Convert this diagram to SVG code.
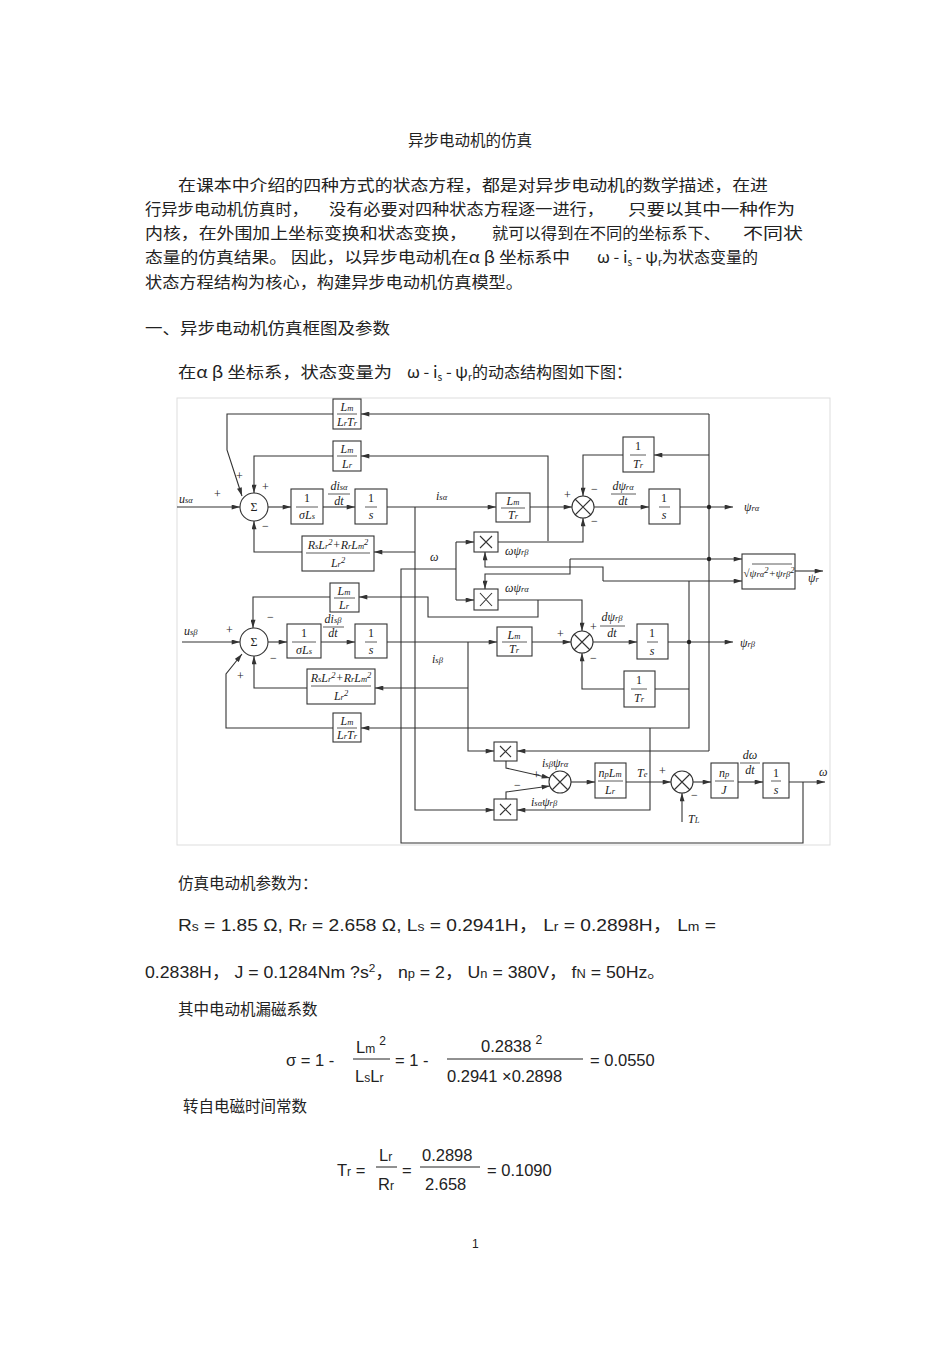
<svg xmlns="http://www.w3.org/2000/svg" width="950" height="1345" viewBox="0 0 950 1345">
<style>
.t{font-family:"Liberation Sans","Noto Sans CJK SC",sans-serif;font-size:16.5px;fill:#222}
.c{font-family:"Noto Sans CJK SC","Liberation Sans",sans-serif;font-size:15.5px;fill:#222}
.d{font-family:"Liberation Serif",serif;font-size:12px;fill:#222}
.i{font-style:italic}
.s{font-size:8.5px}
.b{fill:#fff;stroke:#333;stroke-width:1.1}
.w{fill:none;stroke:#333;stroke-width:1.1}
.fl{stroke:#333;stroke-width:0.8}
</style>
<defs>
<marker id="a" viewBox="0 0 10 6" refX="10" refY="3" markerWidth="9" markerHeight="5" orient="auto" markerUnits="userSpaceOnUse"><path d="M0 0L10 3L0 6z" fill="#333"/></marker>
</defs>
<rect width="950" height="1345" fill="#fff"/>
<text class="c" x="470" y="146" text-anchor="middle" font-size="17">异步电动机的仿真</text>
<g class="c">
<text x="178" y="191" textLength="590" lengthAdjust="spacingAndGlyphs">在课本中介绍的四种方式的状态方程，都是对异步电动机的数学描述，在进</text>
<text x="145" y="215" textLength="163" lengthAdjust="spacingAndGlyphs">行异步电动机仿真时，</text>
<text x="329" y="215" textLength="275" lengthAdjust="spacingAndGlyphs">没有必要对四种状态方程逐一进行，</text>
<text x="628" y="215" textLength="167" lengthAdjust="spacingAndGlyphs">只要以其中一种作为</text>
<text x="145" y="239" textLength="322" lengthAdjust="spacingAndGlyphs">内核，在外围加上坐标变换和状态变换，</text>
<text x="492" y="239" textLength="228" lengthAdjust="spacingAndGlyphs">就可以得到在不同的坐标系下、</text>
<text x="743" y="239" textLength="60" lengthAdjust="spacingAndGlyphs">不同状</text>
<text x="145" y="263" textLength="425" lengthAdjust="spacingAndGlyphs">态量的仿真结果。 因此，以异步电动机在α β 坐标系中</text>
<text x="597" y="263" font-size="16.5">ω -  i<tspan font-size="10" dy="3">s</tspan><tspan dy="-3"> -  ψ</tspan><tspan font-size="10" dy="3">r</tspan><tspan dy="-3" font-size="16">为状态变量的</tspan></text>
<text x="145" y="288" textLength="378" lengthAdjust="spacingAndGlyphs">状态方程结构为核心，构建异步电动机仿真模型。</text>
<text x="145" y="334" textLength="245" lengthAdjust="spacingAndGlyphs">一、异步电动机仿真框图及参数</text>
<text x="178" y="378" textLength="214" lengthAdjust="spacingAndGlyphs">在α β 坐标系，状态变量为</text>
<text x="407" y="378" font-size="16.5">ω -  i<tspan font-size="10" dy="3">s</tspan><tspan dy="-3"> -  ψ</tspan><tspan font-size="10" dy="3">r</tspan><tspan dy="-3" font-size="16">的动态结构图如下图：</tspan></text>
</g>
<rect x="177" y="398" width="653" height="447" fill="none" stroke="#ddd" stroke-width="1"/>
<g id="connectors">
<path class="w" marker-end="url(#a)" d="M177 507H240"/>
<path class="w" marker-end="url(#a)" d="M268 507H291"/>
<path class="w" marker-end="url(#a)" d="M323 507H355"/>
<path class="w" marker-end="url(#a)" d="M387 507H496"/>
<path class="w" marker-end="url(#a)" d="M530 507H572"/>
<path class="w" marker-end="url(#a)" d="M594 507H649"/>
<path class="w" marker-end="url(#a)" d="M680 507H733"/>
<path class="w" marker-end="url(#a)" d="M709 414H361"/>
<path class="w" marker-end="url(#a)" d="M333 414H227V450L242 496"/>
<path class="w" d="M709 414V751"/>
<path class="w" marker-end="url(#a)" d="M709 455H654"/>
<path class="w" marker-end="url(#a)" d="M623 455H583V496"/>
<path class="w" marker-end="url(#a)" d="M548 541V456H361"/>
<path class="w" marker-end="url(#a)" d="M333 456H254V493"/>
<path class="w" marker-end="url(#a)" d="M498 542H583V518"/>
<path class="w" marker-end="url(#a)" d="M570 559H742"/>
<path class="w" marker-end="url(#a)" d="M570 559V574H485V589"/>
<path class="w" d="M689 642V581"/>
<path class="w" marker-end="url(#a)" d="M603 581H742"/>
<path class="w" marker-end="url(#a)" d="M603 581V567H485V552"/>
<path class="w" marker-end="url(#a)" d="M415 507V810H494"/>
<path class="w" marker-end="url(#a)" d="M415 552H374"/>
<path class="w" marker-end="url(#a)" d="M302 552H254V521"/>
<path class="w" d="M803 782V843H401V569H456"/>
<path class="w" d="M456 542V600"/>
<path class="w" marker-end="url(#a)" d="M456 542H474"/>
<path class="w" marker-end="url(#a)" d="M456 600H474"/>
<path class="w" marker-end="url(#a)" d="M498 600H582V631"/>
<path class="w" marker-end="url(#a)" d="M538 600V617H428V597H359"/>
<path class="w" marker-end="url(#a)" d="M330 597H253V628"/>
<path class="w" marker-end="url(#a)" d="M182 642H240"/>
<path class="w" marker-end="url(#a)" d="M268 642H287"/>
<path class="w" marker-end="url(#a)" d="M321 642H355"/>
<path class="w" marker-end="url(#a)" d="M387 642H497"/>
<path class="w" marker-end="url(#a)" d="M532 642H571"/>
<path class="w" marker-end="url(#a)" d="M593 642H637"/>
<path class="w" marker-end="url(#a)" d="M668 642H733"/>
<path class="w" marker-end="url(#a)" d="M468 642V751H494"/>
<path class="w" marker-end="url(#a)" d="M468 688H375"/>
<path class="w" marker-end="url(#a)" d="M307 688H254V656"/>
<path class="w" d="M689 689H655"/>
<path class="w" marker-end="url(#a)" d="M624 689H582V653"/>
<path class="w" marker-end="url(#a)" d="M689 642V728H361"/>
<path class="w" marker-end="url(#a)" d="M333 728H226V674L242 654"/>
<path class="w" marker-end="url(#a)" d="M650 728V810H517"/>
<path class="w" marker-end="url(#a)" d="M709 751H517"/>
<path class="w" marker-end="url(#a)" d="M506 761V768L550 778"/>
<path class="w" marker-end="url(#a)" d="M506 799V792L550 786"/>
<path class="w" marker-end="url(#a)" d="M571 782H595"/>
<path class="w" marker-end="url(#a)" d="M626 782H671"/>
<path class="w" marker-end="url(#a)" d="M682 822V793"/>
<path class="w" marker-end="url(#a)" d="M693 782H711"/>
<path class="w" marker-end="url(#a)" d="M738 782H763"/>
<path class="w" marker-end="url(#a)" d="M789 782H825"/>
<path class="w" marker-end="url(#a)" d="M795 571H823"/>
<circle cx="709" cy="507" r="2.2" fill="#222"/>
<circle cx="709" cy="559" r="2.2" fill="#222"/>
<circle cx="689" cy="642" r="2.2" fill="#222"/>
</g>
<g class="d" text-anchor="middle">
<g id="n-lmlrtr-a"><rect class="b" x="333" y="399" width="28" height="30"/><text class="i" x="347" y="411">L<tspan class="s">m</tspan></text><line class="fl" x1="337" y1="414" x2="357" y2="414"/><text class="i" x="347" y="426">L<tspan class="s">r</tspan>T<tspan class="s">r</tspan></text></g>
<g id="n-lmlr-a"><rect class="b" x="333" y="441" width="28" height="30"/><text class="i" x="347" y="453">L<tspan class="s">m</tspan></text><line class="fl" x1="337" y1="456" x2="357" y2="456"/><text class="i" x="347" y="468">L<tspan class="s">r</tspan></text></g>
<g id="n-sum-a"><circle class="b" cx="254" cy="507" r="14"/><text x="254" y="511">Σ</text></g>
<g id="n-sigls-a"><rect class="b" x="291" y="489" width="32" height="35"/><text x="307" y="502">1</text><line class="fl" x1="296" y1="507" x2="318" y2="507"/><text class="i" x="307" y="519">σL<tspan class="s">s</tspan></text></g>
<g id="n-int-a"><rect class="b" x="355" y="489" width="32" height="35"/><text x="371" y="502">1</text><line class="fl" x1="365" y1="507" x2="377" y2="507"/><text class="i" x="371" y="519">s</text></g>
<g id="n-rs-a"><rect class="b" x="302" y="536" width="72" height="35"/><text class="i" x="338" y="549">R<tspan class="s">s</tspan>L<tspan class="s">r</tspan><tspan class="s" dy="-4">2</tspan><tspan dy="4">+R</tspan><tspan class="s">r</tspan>L<tspan class="s">m</tspan><tspan class="s" dy="-4">2</tspan></text><line class="fl" x1="306" y1="553" x2="370" y2="553"/><text class="i" x="338" y="567">L<tspan class="s">r</tspan><tspan class="s" dy="-4">2</tspan></text></g>
<g id="n-lmtr-a"><rect class="b" x="496" y="493" width="34" height="29"/><text class="i" x="513" y="505">L<tspan class="s">m</tspan></text><line class="fl" x1="501" y1="508" x2="525" y2="508"/><text class="i" x="513" y="519">T<tspan class="s">r</tspan></text></g>
<g id="n-x-a"><circle class="b" cx="583" cy="507" r="11"/><path class="w" d="M575 499L591 515M591 499L575 515"/></g>
<g id="n-tr-a"><rect class="b" x="623" y="437" width="31" height="35"/><text x="638" y="450">1</text><line class="fl" x1="630" y1="455" x2="646" y2="455"/><text class="i" x="638" y="468">T<tspan class="s">r</tspan></text></g>
<g id="n-intpsi-a"><rect class="b" x="649" y="489" width="31" height="35"/><text x="664" y="502">1</text><line class="fl" x1="659" y1="507" x2="670" y2="507"/><text class="i" x="664" y="519">s</text></g>
<g id="n-mul1"><rect class="b" x="474" y="532" width="24" height="20"/><path class="w" d="M480 536L492 548M492 536L480 548"/></g>
<g id="n-mul2"><rect class="b" x="474" y="589" width="24" height="21"/><path class="w" d="M480 593L492 606M492 593L480 606"/></g>
<g id="n-sqrt"><rect class="b" x="742" y="554" width="53" height="35"/><text class="i" x="769" y="577" font-size="11">√<tspan>ψ</tspan><tspan class="s">rα</tspan><tspan class="s" dy="-4">2</tspan><tspan dy="4">+ψ</tspan><tspan class="s">rβ</tspan><tspan class="s" dy="-4">2</tspan></text><line class="fl" x1="752" y1="564" x2="792" y2="564"/></g>
<g id="n-lmlr-b"><rect class="b" x="330" y="583" width="29" height="29"/><text class="i" x="344" y="595">L<tspan class="s">m</tspan></text><line class="fl" x1="334" y1="598" x2="355" y2="598"/><text class="i" x="344" y="609">L<tspan class="s">r</tspan></text></g>
<g id="n-sum-b"><circle class="b" cx="254" cy="642" r="14"/><text x="254" y="646">Σ</text></g>
<g id="n-sigls-b"><rect class="b" x="287" y="624" width="34" height="34"/><text x="304" y="637">1</text><line class="fl" x1="292" y1="642" x2="316" y2="642"/><text class="i" x="304" y="654">σL<tspan class="s">s</tspan></text></g>
<g id="n-int-b"><rect class="b" x="355" y="624" width="32" height="34"/><text x="371" y="637">1</text><line class="fl" x1="365" y1="642" x2="377" y2="642"/><text class="i" x="371" y="654">s</text></g>
<g id="n-lmtr-b"><rect class="b" x="497" y="627" width="35" height="29"/><text class="i" x="514" y="639">L<tspan class="s">m</tspan></text><line class="fl" x1="502" y1="642" x2="527" y2="642"/><text class="i" x="514" y="653">T<tspan class="s">r</tspan></text></g>
<g id="n-x-b"><circle class="b" cx="582" cy="642" r="11"/><path class="w" d="M574 634L590 650M590 634L574 650"/></g>
<g id="n-intpsi-b"><rect class="b" x="637" y="624" width="31" height="35"/><text x="652" y="637">1</text><line class="fl" x1="647" y1="642" x2="658" y2="642"/><text class="i" x="652" y="655">s</text></g>
<g id="n-tr-b"><rect class="b" x="624" y="671" width="31" height="36"/><text x="639" y="684">1</text><line class="fl" x1="631" y1="689" x2="647" y2="689"/><text class="i" x="639" y="702">T<tspan class="s">r</tspan></text></g>
<g id="n-rs-b"><rect class="b" x="307" y="669" width="68" height="35"/><text class="i" x="341" y="682">R<tspan class="s">s</tspan>L<tspan class="s">r</tspan><tspan class="s" dy="-4">2</tspan><tspan dy="4">+R</tspan><tspan class="s">r</tspan>L<tspan class="s">m</tspan><tspan class="s" dy="-4">2</tspan></text><line class="fl" x1="311" y1="686" x2="371" y2="686"/><text class="i" x="341" y="700">L<tspan class="s">r</tspan><tspan class="s" dy="-4">2</tspan></text></g>
<g id="n-lmlrtr-b"><rect class="b" x="333" y="713" width="28" height="29"/><text class="i" x="347" y="725">L<tspan class="s">m</tspan></text><line class="fl" x1="337" y1="728" x2="357" y2="728"/><text class="i" x="347" y="739">L<tspan class="s">r</tspan>T<tspan class="s">r</tspan></text></g>
<g id="n-mult1"><rect class="b" x="494" y="742" width="23" height="19"/><path class="w" d="M500 746L511 757M511 746L500 757"/></g>
<g id="n-mult2"><rect class="b" x="494" y="799" width="23" height="21"/><path class="w" d="M500 804L511 815M511 804L500 815"/></g>
<g id="n-x-t"><circle class="b" cx="560" cy="782" r="11"/><path class="w" d="M552 774L568 790M568 774L552 790"/></g>
<g id="n-nplm"><rect class="b" x="595" y="763" width="31" height="35"/><text class="i" x="610" y="777">n<tspan class="s">p</tspan>L<tspan class="s">m</tspan></text><line class="fl" x1="598" y1="781" x2="623" y2="781"/><text class="i" x="610" y="794">L<tspan class="s">r</tspan></text></g>
<g id="n-x-w"><circle class="b" cx="682" cy="782" r="11"/><path class="w" d="M674 774L690 790M690 774L674 790"/></g>
<g id="n-npj"><rect class="b" x="711" y="763" width="27" height="35"/><text class="i" x="724" y="777">n<tspan class="s">p</tspan></text><line class="fl" x1="715" y1="781" x2="734" y2="781"/><text class="i" x="724" y="794">J</text></g>
<g id="n-int-w"><rect class="b" x="763" y="763" width="26" height="35"/><text x="776" y="777">1</text><line class="fl" x1="771" y1="781" x2="781" y2="781"/><text class="i" x="776" y="794">s</text></g>
</g>
<g class="d">
<text class="i" x="179" y="503">u<tspan class="s">sα</tspan></text>
<text x="214" y="498">+</text><text x="236" y="480">+</text><text x="262" y="491">+</text><text x="262" y="530">−</text>
<text class="i" x="339" y="490" text-anchor="middle">di<tspan class="s">sα</tspan></text><line class="fl" x1="328" y1="494" x2="350" y2="494"/><text class="i" x="339" y="505" text-anchor="middle">dt</text>
<text class="i" x="436" y="500">i<tspan class="s">sα</tspan></text>
<text class="i" x="430" y="561">ω</text>
<text class="i" x="505" y="555">ωψ<tspan class="s">rβ</tspan></text>
<text class="i" x="505" y="592">ωψ<tspan class="s">rα</tspan></text>
<text class="i" x="623" y="490" text-anchor="middle">dψ<tspan class="s">rα</tspan></text><line class="fl" x1="611" y1="494" x2="636" y2="494"/><text class="i" x="623" y="505" text-anchor="middle">dt</text>
<text x="564" y="499">+</text><text x="591" y="493">−</text><text x="591" y="525">−</text>
<text class="i" x="744" y="511">ψ<tspan class="s">rα</tspan></text>
<text class="i" x="808" y="582">ψ<tspan class="s">r</tspan></text>
<text class="i" x="184" y="635">u<tspan class="s">sβ</tspan></text>
<text x="226" y="634">+</text><text x="267" y="621">−</text><text x="270" y="662">−</text><text x="237" y="680">+</text>
<text class="i" x="333" y="623" text-anchor="middle">di<tspan class="s">sβ</tspan></text><line class="fl" x1="323" y1="627" x2="344" y2="627"/><text class="i" x="333" y="637" text-anchor="middle">dt</text>
<text class="i" x="432" y="663">i<tspan class="s">sβ</tspan></text>
<text class="i" x="612" y="621" text-anchor="middle">dψ<tspan class="s">rβ</tspan></text><line class="fl" x1="600" y1="626" x2="625" y2="626"/><text class="i" x="612" y="637" text-anchor="middle">dt</text>
<text x="557" y="638">+</text><text x="590" y="631">+</text><text x="590" y="662">−</text>
<text class="i" x="740" y="647">ψ<tspan class="s">rβ</tspan></text>
<text class="i" x="542" y="767">i<tspan class="s">sβ</tspan>ψ<tspan class="s">rα</tspan></text>
<text x="533" y="779">+</text><text x="514" y="789">−</text>
<text class="i" x="531" y="806">i<tspan class="s">sα</tspan>ψ<tspan class="s">rβ</tspan></text>
<text class="i" x="637" y="777">T<tspan class="s">e</tspan></text>
<text x="659" y="775">+</text><text x="691" y="799">−</text>
<text class="i" x="688" y="823">T<tspan class="s">L</tspan></text>
<text class="i" x="750" y="759" text-anchor="middle">dω</text><line class="fl" x1="740" y1="763" x2="760" y2="763"/><text class="i" x="750" y="774" text-anchor="middle">dt</text>
<text class="i" x="819" y="776">ω</text>
</g>
<g class="t">
<text class="c" x="178" y="889">仿真电动机参数为：</text>
<text x="178" y="931" textLength="538" lengthAdjust="spacingAndGlyphs">R<tspan font-size="12">s</tspan> = 1.85 Ω, R<tspan font-size="12">r</tspan> = 2.658 Ω, L<tspan font-size="12">s</tspan> = 0.2941H， L<tspan font-size="12">r</tspan> = 0.2898H， L<tspan font-size="12">m</tspan> =</text>
<text x="145" y="978" textLength="520" lengthAdjust="spacingAndGlyphs">0.2838H， J = 0.1284Nm ?s<tspan font-size="11" dy="-6">2</tspan><tspan dy="6">， n</tspan><tspan font-size="12">p</tspan> = 2， U<tspan font-size="12">n</tspan> = 380V， f<tspan font-size="12">N</tspan> = 50Hz。</text>
<text class="c" x="178" y="1015">其中电动机漏磁系数</text>
<text x="286" y="1066">σ = 1 -</text>
<text x="356" y="1053">L<tspan font-size="12">m</tspan><tspan font-size="12" dx="4" dy="-8">2</tspan></text>
<line x1="353" y1="1059" x2="390" y2="1059" stroke="#222" stroke-width="1"/>
<text x="355" y="1082">L<tspan font-size="12">s</tspan>L<tspan font-size="12">r</tspan></text>
<text x="395" y="1066">= 1 -</text>
<text x="481" y="1052">0.2838<tspan font-size="12" dx="4" dy="-8">2</tspan></text>
<line x1="447" y1="1059" x2="583" y2="1059" stroke="#222" stroke-width="1"/>
<text x="447" y="1082">0.2941  ×0.2898</text>
<text x="590" y="1066">= 0.0550</text>
<text class="c" x="183" y="1112">转自电磁时间常数</text>
<text x="337" y="1176">T<tspan font-size="12">r</tspan> =</text>
<text x="379" y="1161">L<tspan font-size="12">r</tspan></text>
<line x1="376" y1="1167" x2="397" y2="1167" stroke="#222" stroke-width="1"/>
<text x="378" y="1190">R<tspan font-size="12">r</tspan></text>
<text x="402" y="1176">=</text>
<text x="422" y="1161">0.2898</text>
<line x1="420" y1="1167" x2="480" y2="1167" stroke="#222" stroke-width="1"/>
<text x="425" y="1190">2.658</text>
<text x="487" y="1176">= 0.1090</text>
<text x="472" y="1248" font-size="12">1</text>
</g>
</svg>
